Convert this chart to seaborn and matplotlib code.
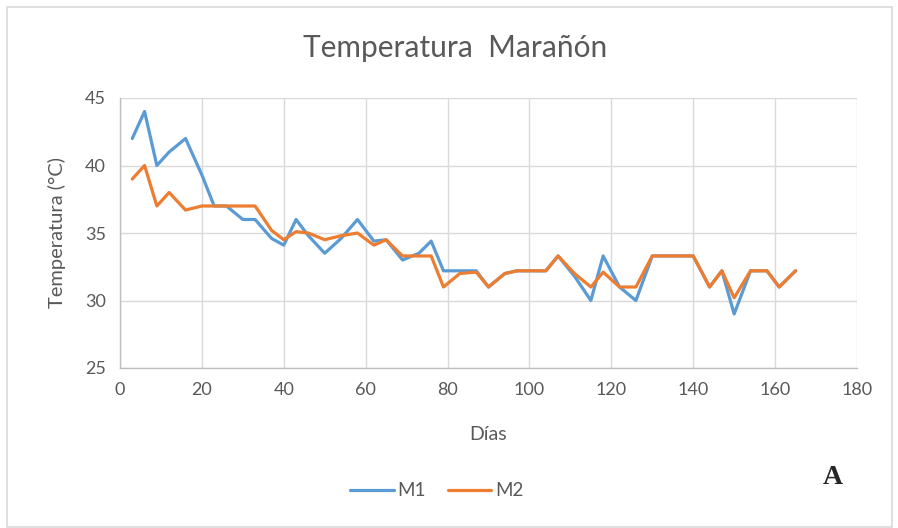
import matplotlib
matplotlib.use("Agg")
import matplotlib.pyplot as plt
import seaborn as sns
import pandas as pd
from matplotlib.patches import Rectangle
from matplotlib.lines import Line2D

dias = [3, 6, 9, 12, 16, 20, 23, 26, 30, 33, 37, 40, 43, 46, 50, 54, 58, 62, 65, 69,
        73, 76, 79, 83, 87, 90, 94, 97, 101, 104, 107, 111, 115, 118, 122, 126, 130,
        133, 137, 140, 144, 147, 150, 154, 158, 161, 165]
m1 = [42, 44, 40, 41, 42, 39.3, 37, 37, 36, 36, 34.6, 34.1, 36, 34.8, 33.5, 34.6, 36,
      34.4, 34.5, 33, 33.5, 34.4, 32.2, 32.2, 32.2, 31, 32, 32.2, 32.2, 32.2, 33.3, 31.8,
      30, 33.3, 31, 30, 33.3, 33.3, 33.3, 33.3, 31, 32.2, 29, 32.2, 32.2, 31, 32.2]
m2 = [39, 40, 37, 38, 36.7, 37, 37, 37, 37, 37, 35.2, 34.5, 35.1, 35, 34.5, 34.8, 35,
      34.1, 34.5, 33.3, 33.3, 33.3, 31, 32, 32.1, 31, 32, 32.2, 32.2, 32.2, 33.3, 32,
      31, 32.1, 31, 31, 33.3, 33.3, 33.3, 33.3, 31, 32.2, 30.2, 32.2, 32.2, 31, 32.2]
series_names = ["M1", "M2"]
x_ticks = [0, 20, 40, 60, 80, 100, 120, 140, 160, 180]
y_ticks = [25, 30, 35, 40, 45]

df = pd.DataFrame({
    "Días": dias * 2,
    "Temperatura": m1 + m2,
    "Serie": [series_names[0]] * len(dias) + [series_names[1]] * len(dias),
})

sns.set_style("white")
plt.rcParams["font.family"] = ["Lato", "DejaVu Sans"]

fig = plt.figure(figsize=(8.98, 5.28), dpi=100)
fig.patches.append(Rectangle((7 / 898, 1 / 528), 885 / 898, 520 / 528, transform=fig.transFigure,
                             fill=False, edgecolor="#d9d9d9", linewidth=1.2))
ax = fig.add_axes([120 / 898, 1 - 368 / 528, 737 / 898, 270 / 528])

sns.lineplot(data=df, x="Días", y="Temperatura", hue="Serie",
             palette={"M1": "#5B9BD5", "M2": "#ED7D31"}, linewidth=2.3, ax=ax,
             legend=False, sort=False, estimator=None)

ax.set_xlim(0, 180)
ax.set_ylim(25, 45)
ax.set_xticks(x_ticks)
ax.set_yticks(y_ticks)
ax.grid(True, color="#d9d9d9", linewidth=1.0)
for s in ["top", "right"]:
    ax.spines[s].set_visible(False)
for s in ["left", "bottom"]:
    ax.spines[s].set_color("#bfbfbf")
    ax.spines[s].set_linewidth(1.0)
ax.tick_params(length=0, labelsize=13, labelcolor="#595959", pad=10)
ax.set_xlabel("Días", fontsize=14, color="#595959", labelpad=20)
ax.set_ylabel("Temperatura (°C)", fontsize=14.5, color="#595959", labelpad=14)
fig.text(455 / 898, 1 - 48 / 528, "Temperatura  Marañón", ha="center", va="center",
         fontsize=21.5, color="#595959")

handles = [Line2D([], [], color="#5B9BD5", lw=2.3), Line2D([], [], color="#ED7D31", lw=2.3)]
fig.legend(handles, series_names, loc="center", bbox_to_anchor=(437 / 898, 1 - 491 / 528),
           ncol=2, frameon=False, fontsize=13.5, labelcolor="#595959", handlelength=2.3,
           handletextpad=0.2, columnspacing=1.2)
fig.text(833 / 898, 1 - 477 / 528, "A", ha="center", va="center", fontsize=20,
         fontweight="bold", family=["Liberation Serif", "DejaVu Serif"])

fig.savefig("out.png", dpi=100)
